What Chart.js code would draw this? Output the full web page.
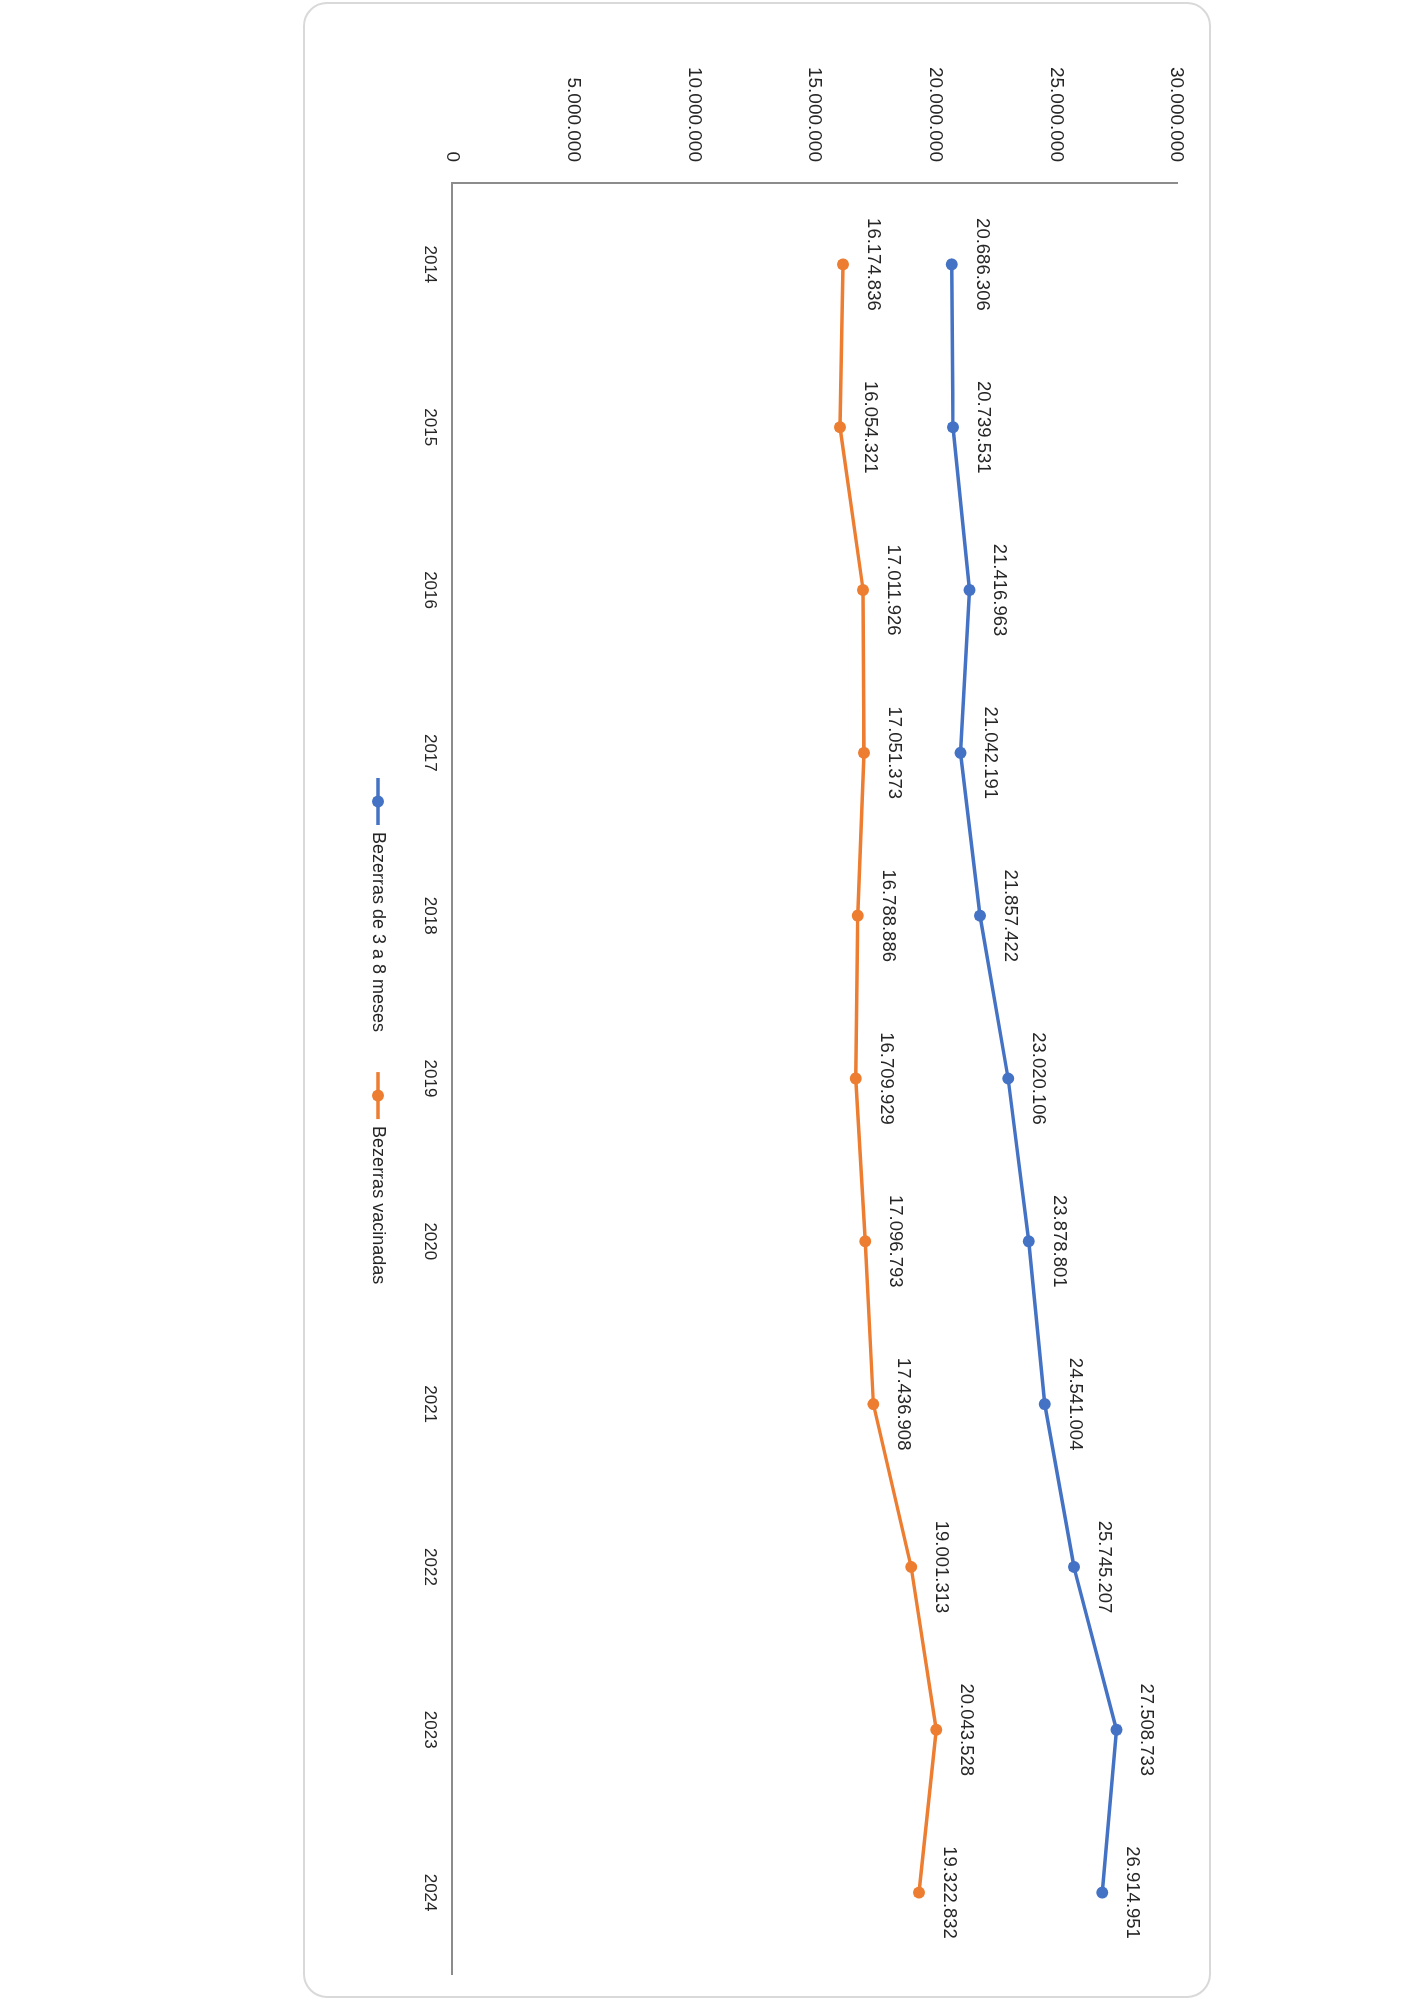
<!DOCTYPE html>
<html lang="pt-BR">
<head>
<meta charset="utf-8">
<title>Bezerras de 3 a 8 meses x Bezerras vacinadas</title>
<script src="https://cdn.jsdelivr.net/npm/chart.js@4.4.1/dist/chart.umd.min.js"></script>
<style>
    html, body {
        margin: 0;
        padding: 0;
        background: #ffffff;
        width: 1414px;
        height: 2000px;
        overflow: hidden;
    }
    /* o grafico foi montado "deitado" e girado 90 graus, como no original */
    #moldura {
        position: absolute;
        left: 0;
        top: 0;
        width: 1996px;
        height: 908px;
        box-sizing: border-box;
        border: 2px solid #d9d9d9;
        border-radius: 24px;
        background: #ffffff;
        transform-origin: 0 0;
        transform: translate(1211px, 2px) rotate(90deg);
    }
    #grafico {
        display: block;
    }
</style>
</head>
<body>
<div id="moldura">
    <canvas id="grafico" width="1992" height="904"></canvas>
</div>

<script>
// Dados
const anos = ['2014', '2015', '2016', '2017', '2018', '2019', '2020', '2021', '2022', '2023', '2024'];

const bezerras3a8Meses = [20686306, 20739531, 21416963, 21042191, 21857422, 23020106,
    23878801, 24541004, 25745207, 27508733, 26914951];

const bezerrasVacinadas = [16174836, 16054321, 17011926, 17051373, 16788886, 16709929,
    17096793, 17436908, 19001313, 20043528, 19322832];

const nomesSeries = ['Bezerras de 3 a 8 meses', 'Bezerras vacinadas'];
const coresSeries = ['#4472c4', '#ed7d31'];

const eixoMin = 0;
const eixoMax = 30000000;
const eixoPasso = 5000000;

const corTexto = '#262626';
const corEixo = '#8c8c8c';
const fonte = '"Liberation Sans", Arial, sans-serif';

// separador de milhar com ponto (pt-BR)
function formatar(valor) {
    return String(Math.round(valor)).replace(/\B(?=(\d{3})+(?!\d))/g, '.');
}

// rotulos de valor acima de cada ponto
const rotuloValores = {
    id: 'rotuloValores',
    afterDatasetsDraw(chart) {
        const ctx = chart.ctx;
        ctx.save();
        ctx.font = '18.5px ' + fonte;
        ctx.fillStyle = corTexto;
        ctx.textAlign = 'center';
        ctx.textBaseline = 'middle';
        chart.data.datasets.forEach((ds, i) => {
            const meta = chart.getDatasetMeta(i);
            meta.data.forEach((pt, j) => {
                ctx.fillText(formatar(ds.data[j]), pt.x, pt.y - 30);
            });
        });
        ctx.restore();
    }
};

// legenda no estilo do Excel: linha com bolinha + nome da serie
const legendaLinha = {
    id: 'legendaLinha',
    afterDraw(chart) {
        const ctx = chart.ctx;
        const linha = 47;      // comprimento da linha do marcador
        const espaco = 7;      // entre marcador e texto
        const entreItens = 40; // entre um item e o proximo
        const centroY = chart.chartArea.bottom + 74.5;
        let x = 774;

        ctx.save();
        ctx.font = '18px ' + fonte;
        chart.data.datasets.forEach((ds) => {
            ctx.strokeStyle = ds.borderColor;
            ctx.lineWidth = 3.5;
            ctx.beginPath();
            ctx.moveTo(x, centroY);
            ctx.lineTo(x + linha, centroY);
            ctx.stroke();
            ctx.fillStyle = ds.borderColor;
            ctx.beginPath();
            ctx.arc(x + linha / 2, centroY, 6, 0, Math.PI * 2);
            ctx.fill();

            ctx.fillStyle = corTexto;
            ctx.textAlign = 'left';
            ctx.textBaseline = 'middle';
            ctx.fillText(ds.label, x + linha + espaco, centroY);
            x += linha + espaco + ctx.measureText(ds.label).width + entreItens;
        });
        ctx.restore();
    }
};

function montarSerie(nome, dados, cor) {
    return {
        label: nome,
        data: dados,
        borderColor: cor,
        backgroundColor: cor,
        borderWidth: 3.5,
        pointRadius: 6,
        pointHoverRadius: 6,
        pointBackgroundColor: cor,
        pointBorderColor: cor,
        pointBorderWidth: 0,
        tension: 0,
        fill: false
    };
}

const ctx = document.getElementById('grafico').getContext('2d');
new Chart(ctx, {
    type: 'line',
    data: {
        labels: anos,
        datasets: [
            montarSerie(nomesSeries[0], bezerras3a8Meses, coresSeries[0]),
            montarSerie(nomesSeries[1], bezerrasVacinadas, coresSeries[1])
        ]
    },
    options: {
        responsive: false,
        animation: false,
        devicePixelRatio: 1,
        layout: {
            padding: { top: 26, right: 22, bottom: 107.5, left: 0 }
        },
        plugins: {
            title: { display: false },
            tooltip: { enabled: false },
            legend: { display: false }
        },
        scales: {
            x: {
                type: 'category',
                offset: true,
                grid: { display: false, drawTicks: false },
                border: { display: true, color: corEixo, width: 2 },
                ticks: {
                    color: corTexto,
                    font: { family: fonte, size: 17 },
                    padding: 13,
                    maxRotation: 0,
                    autoSkip: false
                },
                afterFit(scale) {
                    scale.height = 40;
                }
            },
            y: {
                min: eixoMin,
                max: eixoMax,
                grid: { display: false, drawTicks: false },
                border: { display: true, color: corEixo, width: 2 },
                ticks: {
                    stepSize: eixoPasso,
                    color: corTexto,
                    font: { family: fonte, size: 19 },
                    padding: 21,
                    callback: (v) => formatar(v)
                },
                afterFit(scale) {
                    scale.width = 179;
                }
            }
        }
    },
    plugins: [rotuloValores, legendaLinha]
});
</script>
</body>
</html>
